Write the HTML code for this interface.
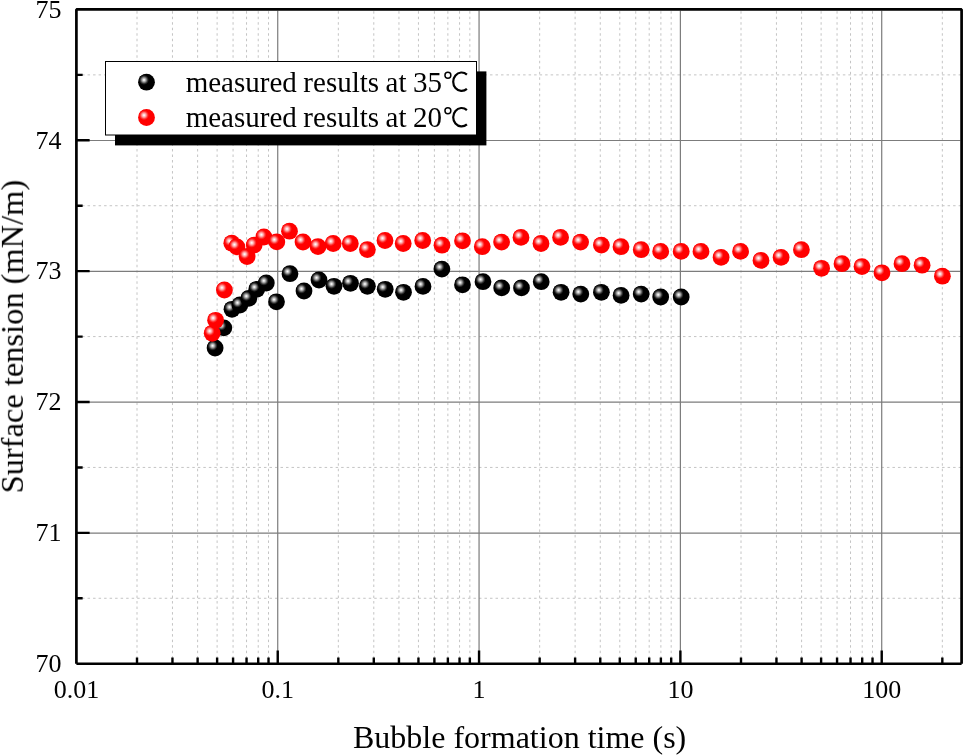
<!DOCTYPE html><html><head><meta charset="utf-8"><style>html,body{margin:0;padding:0;background:#fff}svg{display:block}text{font-family:"Liberation Serif",serif;fill:#000}#tx{opacity:0.999}</style></head><body>
<svg width="963" height="755" viewBox="0 0 963 755">
<defs>
<radialGradient id="gb"><stop offset="0" stop-color="#fff"/><stop offset="0.12" stop-color="#ececec"/><stop offset="0.45" stop-color="#929292"/><stop offset="0.75" stop-color="#303030"/><stop offset="1" stop-color="#000"/></radialGradient>
<radialGradient id="gr"><stop offset="0" stop-color="#fff"/><stop offset="0.12" stop-color="#ffecec"/><stop offset="0.45" stop-color="#ff9696"/><stop offset="0.75" stop-color="#ff3030"/><stop offset="1" stop-color="#f00"/></radialGradient>
</defs>
<rect width="963" height="755" fill="#fff"/>
<path d="M137.01 9.45V663.70M172.46 9.45V663.70M197.61 9.45V663.70M217.12 9.45V663.70M233.07 9.45V663.70M246.54 9.45V663.70M258.22 9.45V663.70M268.52 9.45V663.70M338.34 9.45V663.70M373.79 9.45V663.70M398.94 9.45V663.70M418.45 9.45V663.70M434.40 9.45V663.70M447.87 9.45V663.70M459.55 9.45V663.70M469.85 9.45V663.70M539.67 9.45V663.70M575.12 9.45V663.70M600.27 9.45V663.70M619.78 9.45V663.70M635.73 9.45V663.70M649.20 9.45V663.70M660.88 9.45V663.70M671.18 9.45V663.70M741.00 9.45V663.70M776.45 9.45V663.70M801.60 9.45V663.70M821.11 9.45V663.70M837.06 9.45V663.70M850.53 9.45V663.70M862.21 9.45V663.70M872.51 9.45V663.70M942.33 9.45V663.70" stroke="#c4c4c4" stroke-width="1" stroke-dasharray="2.5 3.013" stroke-dashoffset="3.793" fill="none"/>
<path d="M76.40 598.28H961.60M76.40 467.43H961.60M76.40 336.58H961.60M76.40 205.73H961.60M76.40 74.88H961.60" stroke="#c4c4c4" stroke-width="1" stroke-dasharray="2.5 3.013" stroke-dashoffset="-0.13" fill="none"/>
<path d="M277.73 10.75V662.40M479.06 10.75V662.40M680.39 10.75V662.40M881.72 10.75V662.40M77.70 533.05H960.30M77.70 402.20H960.30M77.70 271.35H960.30M77.70 140.50H960.30" stroke="#7c7c7c" stroke-width="1.2" fill="none"/>
<path d="M137.01 663.70V657.45M172.46 663.70V657.45M197.61 663.70V657.45M217.12 663.70V657.45M233.07 663.70V657.45M246.54 663.70V657.45M258.22 663.70V657.45M268.52 663.70V657.45M338.34 663.70V657.45M373.79 663.70V657.45M398.94 663.70V657.45M418.45 663.70V657.45M434.40 663.70V657.45M447.87 663.70V657.45M459.55 663.70V657.45M469.85 663.70V657.45M539.67 663.70V657.45M575.12 663.70V657.45M600.27 663.70V657.45M619.78 663.70V657.45M635.73 663.70V657.45M649.20 663.70V657.45M660.88 663.70V657.45M671.18 663.70V657.45M741.00 663.70V657.45M776.45 663.70V657.45M801.60 663.70V657.45M821.11 663.70V657.45M837.06 663.70V657.45M850.53 663.70V657.45M862.21 663.70V657.45M872.51 663.70V657.45M942.33 663.70V657.45M277.73 663.70V650.45M479.06 663.70V650.45M680.39 663.70V650.45M881.72 663.70V650.45M76.40 598.28H82.65M76.40 467.43H82.65M76.40 336.58H82.65M76.40 205.73H82.65M76.40 74.88H82.65M76.40 532.85H89.65M76.40 402.00H89.65M76.40 271.15H89.65M76.40 140.30H89.65" stroke="#000" stroke-width="2.4" fill="none"/>
<path d="M76.40 663.70V9.45H961.60V663.70" stroke="#000" stroke-width="2.7" stroke-linejoin="bevel" fill="none"/><path d="M76.40 663.70H961.60" stroke="#000" stroke-width="2.6" fill="none"/>
<circle cx="215.1" cy="348.0" r="8.4" fill="#000"/><circle cx="212.6" cy="345.7" r="5.0" fill="url(#gb)"/>
<circle cx="223.8" cy="327.9" r="8.4" fill="#000"/><circle cx="221.3" cy="325.6" r="5.0" fill="url(#gb)"/>
<circle cx="232.0" cy="309.3" r="8.4" fill="#000"/><circle cx="229.5" cy="307.0" r="5.0" fill="url(#gb)"/>
<circle cx="239.9" cy="305.0" r="8.4" fill="#000"/><circle cx="237.4" cy="302.7" r="5.0" fill="url(#gb)"/>
<circle cx="248.8" cy="298.4" r="8.4" fill="#000"/><circle cx="246.3" cy="296.1" r="5.0" fill="url(#gb)"/>
<circle cx="256.8" cy="289.3" r="8.4" fill="#000"/><circle cx="254.3" cy="287.0" r="5.0" fill="url(#gb)"/>
<circle cx="266.3" cy="283.0" r="8.4" fill="#000"/><circle cx="263.8" cy="280.7" r="5.0" fill="url(#gb)"/>
<circle cx="276.5" cy="301.8" r="8.4" fill="#000"/><circle cx="274.0" cy="299.5" r="5.0" fill="url(#gb)"/>
<circle cx="290.0" cy="273.7" r="8.4" fill="#000"/><circle cx="287.5" cy="271.4" r="5.0" fill="url(#gb)"/>
<circle cx="304.0" cy="291.0" r="8.4" fill="#000"/><circle cx="301.5" cy="288.7" r="5.0" fill="url(#gb)"/>
<circle cx="319.0" cy="280.0" r="8.4" fill="#000"/><circle cx="316.5" cy="277.7" r="5.0" fill="url(#gb)"/>
<circle cx="334.0" cy="286.3" r="8.4" fill="#000"/><circle cx="331.5" cy="284.0" r="5.0" fill="url(#gb)"/>
<circle cx="350.5" cy="283.3" r="8.4" fill="#000"/><circle cx="348.0" cy="281.0" r="5.0" fill="url(#gb)"/>
<circle cx="367.4" cy="286.3" r="8.4" fill="#000"/><circle cx="364.9" cy="284.0" r="5.0" fill="url(#gb)"/>
<circle cx="385.2" cy="289.3" r="8.4" fill="#000"/><circle cx="382.7" cy="287.0" r="5.0" fill="url(#gb)"/>
<circle cx="403.5" cy="292.3" r="8.4" fill="#000"/><circle cx="401.0" cy="290.0" r="5.0" fill="url(#gb)"/>
<circle cx="423.0" cy="286.4" r="8.4" fill="#000"/><circle cx="420.5" cy="284.1" r="5.0" fill="url(#gb)"/>
<circle cx="441.9" cy="269.1" r="8.4" fill="#000"/><circle cx="439.4" cy="266.8" r="5.0" fill="url(#gb)"/>
<circle cx="462.5" cy="284.8" r="8.4" fill="#000"/><circle cx="460.0" cy="282.5" r="5.0" fill="url(#gb)"/>
<circle cx="483.0" cy="281.7" r="8.4" fill="#000"/><circle cx="480.5" cy="279.4" r="5.0" fill="url(#gb)"/>
<circle cx="501.7" cy="287.9" r="8.4" fill="#000"/><circle cx="499.2" cy="285.6" r="5.0" fill="url(#gb)"/>
<circle cx="521.5" cy="287.9" r="8.4" fill="#000"/><circle cx="519.0" cy="285.6" r="5.0" fill="url(#gb)"/>
<circle cx="541.2" cy="281.7" r="8.4" fill="#000"/><circle cx="538.7" cy="279.4" r="5.0" fill="url(#gb)"/>
<circle cx="561.1" cy="292.3" r="8.4" fill="#000"/><circle cx="558.6" cy="290.0" r="5.0" fill="url(#gb)"/>
<circle cx="580.8" cy="294.1" r="8.4" fill="#000"/><circle cx="578.3" cy="291.8" r="5.0" fill="url(#gb)"/>
<circle cx="601.4" cy="292.3" r="8.4" fill="#000"/><circle cx="598.9" cy="290.0" r="5.0" fill="url(#gb)"/>
<circle cx="621.1" cy="295.4" r="8.4" fill="#000"/><circle cx="618.6" cy="293.1" r="5.0" fill="url(#gb)"/>
<circle cx="641.2" cy="294.1" r="8.4" fill="#000"/><circle cx="638.7" cy="291.8" r="5.0" fill="url(#gb)"/>
<circle cx="660.7" cy="297.0" r="8.4" fill="#000"/><circle cx="658.2" cy="294.7" r="5.0" fill="url(#gb)"/>
<circle cx="681.2" cy="297.0" r="8.4" fill="#000"/><circle cx="678.7" cy="294.7" r="5.0" fill="url(#gb)"/>
<circle cx="212.2" cy="333.3" r="8.4" fill="#f00"/><circle cx="209.7" cy="331.0" r="5.0" fill="url(#gr)"/>
<circle cx="215.6" cy="320.3" r="8.4" fill="#f00"/><circle cx="213.1" cy="318.0" r="5.0" fill="url(#gr)"/>
<circle cx="224.4" cy="290.0" r="8.4" fill="#f00"/><circle cx="221.9" cy="287.7" r="5.0" fill="url(#gr)"/>
<circle cx="231.8" cy="243.2" r="8.4" fill="#f00"/><circle cx="229.3" cy="240.9" r="5.0" fill="url(#gr)"/>
<circle cx="236.9" cy="246.9" r="8.4" fill="#f00"/><circle cx="234.4" cy="244.6" r="5.0" fill="url(#gr)"/>
<circle cx="247.1" cy="256.5" r="8.4" fill="#f00"/><circle cx="244.6" cy="254.2" r="5.0" fill="url(#gr)"/>
<circle cx="254.2" cy="245.1" r="8.4" fill="#f00"/><circle cx="251.7" cy="242.8" r="5.0" fill="url(#gr)"/>
<circle cx="263.9" cy="237.0" r="8.4" fill="#f00"/><circle cx="261.4" cy="234.7" r="5.0" fill="url(#gr)"/>
<circle cx="276.8" cy="241.9" r="8.4" fill="#f00"/><circle cx="274.3" cy="239.6" r="5.0" fill="url(#gr)"/>
<circle cx="289.5" cy="231.2" r="8.4" fill="#f00"/><circle cx="287.0" cy="228.9" r="5.0" fill="url(#gr)"/>
<circle cx="303.0" cy="242.0" r="8.4" fill="#f00"/><circle cx="300.5" cy="239.7" r="5.0" fill="url(#gr)"/>
<circle cx="318.0" cy="246.6" r="8.4" fill="#f00"/><circle cx="315.5" cy="244.3" r="5.0" fill="url(#gr)"/>
<circle cx="333.2" cy="243.5" r="8.4" fill="#f00"/><circle cx="330.7" cy="241.2" r="5.0" fill="url(#gr)"/>
<circle cx="350.3" cy="243.5" r="8.4" fill="#f00"/><circle cx="347.8" cy="241.2" r="5.0" fill="url(#gr)"/>
<circle cx="367.4" cy="249.6" r="8.4" fill="#f00"/><circle cx="364.9" cy="247.3" r="5.0" fill="url(#gr)"/>
<circle cx="385.0" cy="240.5" r="8.4" fill="#f00"/><circle cx="382.5" cy="238.2" r="5.0" fill="url(#gr)"/>
<circle cx="403.2" cy="243.5" r="8.4" fill="#f00"/><circle cx="400.7" cy="241.2" r="5.0" fill="url(#gr)"/>
<circle cx="422.7" cy="240.5" r="8.4" fill="#f00"/><circle cx="420.2" cy="238.2" r="5.0" fill="url(#gr)"/>
<circle cx="442.0" cy="245.2" r="8.4" fill="#f00"/><circle cx="439.5" cy="242.9" r="5.0" fill="url(#gr)"/>
<circle cx="462.5" cy="240.8" r="8.4" fill="#f00"/><circle cx="460.0" cy="238.5" r="5.0" fill="url(#gr)"/>
<circle cx="482.3" cy="246.7" r="8.4" fill="#f00"/><circle cx="479.8" cy="244.4" r="5.0" fill="url(#gr)"/>
<circle cx="501.6" cy="242.1" r="8.4" fill="#f00"/><circle cx="499.1" cy="239.8" r="5.0" fill="url(#gr)"/>
<circle cx="521.0" cy="237.4" r="8.4" fill="#f00"/><circle cx="518.5" cy="235.1" r="5.0" fill="url(#gr)"/>
<circle cx="541.0" cy="243.5" r="8.4" fill="#f00"/><circle cx="538.5" cy="241.2" r="5.0" fill="url(#gr)"/>
<circle cx="560.6" cy="237.4" r="8.4" fill="#f00"/><circle cx="558.1" cy="235.1" r="5.0" fill="url(#gr)"/>
<circle cx="580.6" cy="242.1" r="8.4" fill="#f00"/><circle cx="578.1" cy="239.8" r="5.0" fill="url(#gr)"/>
<circle cx="601.4" cy="245.1" r="8.4" fill="#f00"/><circle cx="598.9" cy="242.8" r="5.0" fill="url(#gr)"/>
<circle cx="621.0" cy="246.7" r="8.4" fill="#f00"/><circle cx="618.5" cy="244.4" r="5.0" fill="url(#gr)"/>
<circle cx="641.2" cy="249.7" r="8.4" fill="#f00"/><circle cx="638.7" cy="247.4" r="5.0" fill="url(#gr)"/>
<circle cx="660.7" cy="251.4" r="8.4" fill="#f00"/><circle cx="658.2" cy="249.1" r="5.0" fill="url(#gr)"/>
<circle cx="681.2" cy="251.4" r="8.4" fill="#f00"/><circle cx="678.7" cy="249.1" r="5.0" fill="url(#gr)"/>
<circle cx="701.0" cy="251.4" r="8.4" fill="#f00"/><circle cx="698.5" cy="249.1" r="5.0" fill="url(#gr)"/>
<circle cx="721.1" cy="257.4" r="8.4" fill="#f00"/><circle cx="718.6" cy="255.1" r="5.0" fill="url(#gr)"/>
<circle cx="740.6" cy="251.4" r="8.4" fill="#f00"/><circle cx="738.1" cy="249.1" r="5.0" fill="url(#gr)"/>
<circle cx="761.0" cy="260.4" r="8.4" fill="#f00"/><circle cx="758.5" cy="258.1" r="5.0" fill="url(#gr)"/>
<circle cx="781.1" cy="257.4" r="8.4" fill="#f00"/><circle cx="778.6" cy="255.1" r="5.0" fill="url(#gr)"/>
<circle cx="801.4" cy="249.7" r="8.4" fill="#f00"/><circle cx="798.9" cy="247.4" r="5.0" fill="url(#gr)"/>
<circle cx="821.6" cy="268.3" r="8.4" fill="#f00"/><circle cx="819.1" cy="266.0" r="5.0" fill="url(#gr)"/>
<circle cx="842.0" cy="263.7" r="8.4" fill="#f00"/><circle cx="839.5" cy="261.4" r="5.0" fill="url(#gr)"/>
<circle cx="862.0" cy="266.6" r="8.4" fill="#f00"/><circle cx="859.5" cy="264.3" r="5.0" fill="url(#gr)"/>
<circle cx="882.0" cy="272.8" r="8.4" fill="#f00"/><circle cx="879.5" cy="270.5" r="5.0" fill="url(#gr)"/>
<circle cx="902.0" cy="263.7" r="8.4" fill="#f00"/><circle cx="899.5" cy="261.4" r="5.0" fill="url(#gr)"/>
<circle cx="922.1" cy="265.2" r="8.4" fill="#f00"/><circle cx="919.6" cy="262.9" r="5.0" fill="url(#gr)"/>
<circle cx="942.4" cy="276.2" r="8.4" fill="#f00"/><circle cx="939.9" cy="273.9" r="5.0" fill="url(#gr)"/>
<rect x="115" y="71.4" width="371.4" height="74" fill="#000"/>
<rect x="105.5" y="61.5" width="371" height="73.5" fill="#fff" stroke="#000" stroke-width="1"/>
<circle cx="146.5" cy="82.2" r="8.4" fill="#000"/><circle cx="144.0" cy="79.9" r="5.0" fill="url(#gb)"/>
<circle cx="146.5" cy="117.5" r="8.4" fill="#f00"/><circle cx="144.0" cy="115.2" r="5.0" fill="url(#gr)"/>
<g id="tx">
<text x="185.7" y="91.8" font-size="29.0" word-spacing="-0.7">measured results at 35</text>
<text x="185.7" y="127.3" font-size="29.0" word-spacing="-0.7">measured results at 20</text>
<circle cx="447.9" cy="75.25" r="2.95" fill="none" stroke="#000" stroke-width="1.5"/>
<path d="M466.91 74.57A8.4 9.2 0 1 0 466.91 88.83" fill="none" stroke="#000" stroke-width="2.2"/>
<circle cx="447.9" cy="110.75" r="2.95" fill="none" stroke="#000" stroke-width="1.5"/>
<path d="M466.91 110.07A8.4 9.2 0 1 0 466.91 124.33" fill="none" stroke="#000" stroke-width="2.2"/>
<text x="61.5" y="671.9" font-size="26" text-anchor="end">70</text>
<text x="61.5" y="541.1" font-size="26" text-anchor="end">71</text>
<text x="61.5" y="410.2" font-size="26" text-anchor="end">72</text>
<text x="61.5" y="279.4" font-size="26" text-anchor="end">73</text>
<text x="61.5" y="148.5" font-size="26" text-anchor="end">74</text>
<text x="61.5" y="17.7" font-size="26" text-anchor="end">75</text>
<text x="76.4" y="697.8" font-size="26" text-anchor="middle">0.01</text>
<text x="277.7" y="697.8" font-size="26" text-anchor="middle">0.1</text>
<text x="479.1" y="697.8" font-size="26" text-anchor="middle">1</text>
<text x="680.4" y="697.8" font-size="26" text-anchor="middle">10</text>
<text x="881.7" y="697.8" font-size="26" text-anchor="middle">100</text>
<text x="353" y="748.3" font-size="32">Bubble formation time (s)</text>
<text transform="translate(22.9 336.6) rotate(-90)" font-size="32.45" text-anchor="middle">Surface tension (mN/m)</text>
</g></svg></body></html>
